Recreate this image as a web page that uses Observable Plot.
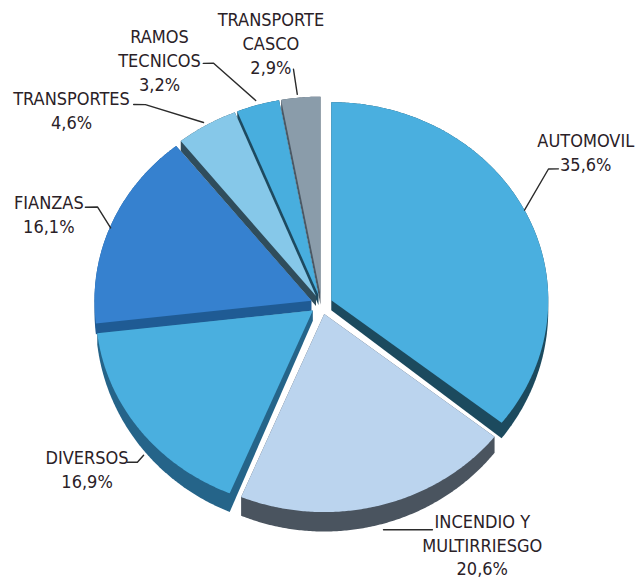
<!DOCTYPE html>
<html><head><meta charset="utf-8">
<script src="https://cdn.jsdelivr.net/npm/d3@7"></script>
<script src="https://cdn.jsdelivr.net/npm/@observablehq/plot@0.6"></script>
<style>body{margin:0;background:#fff}</style>
</head><body><div id="chart"></div>
<script>
// ---- data ----
const categories = ["AUTOMOVIL", "INCENDIO Y\nMULTIRRIESGO", "DIVERSOS", "FIANZAS", "TRANSPORTES", "RAMOS\nTECNICOS", "TRANSPORTE\nCASCO"];
const values = [35.6, 20.6, 16.9, 16.1, 4.6, 3.2, 2.9];

// ---- styles ----
const topColors  = ["#4aafdf", "#bbd4ee", "#4aafdf", "#3681cf", "#86c8e9", "#48aede", "#8a9caa"];
const sideColors = ["#1c4a5e", "#4a545f", "#256489", "#1f5b94", "#2f4d5c", "#1d4a60", "#4b5864"];

// ---- layout (polar: degrees clockwise from top, radius in pie radii) ----
const labelPos = [[57.5,1.444],[148.5,1.418],[232.6,1.36],[290.1,1.338],[310.5,1.515],[328.9,1.445],[350,1.343]];
const leaderPts = [
  [[63.0,1.05],[56.8,1.25],[57.9,1.289]],
  [[165.9,1.173],[155.8,1.247]],
  [[227.1,1.119],[226.8,1.164],[228.3,1.198]],
  [[291.7,1.046],[295.5,1.143],[294.3,1.194]],
  [[329.4,1.068],[321.2,1.295],[319.4,1.330]],
  [[343.6,1.074],[337.8,1.316],[335.9,1.334]],
  [[354.0,1.067],[353.8,1.195]]
];
const cx = 321, cy = 304, rx = 217, ry = 198, explode = 0.05;
const fontFamily = "'Liberation Sans Narrow', 'DejaVu Sans Condensed', 'Roboto Condensed', sans-serif";

const rad = Math.PI / 180;
const polar = ([a, r]) => ({u: r * Math.sin(a * rad), v: r * Math.cos(a * rad)});
const depthPx = v => 10 + 9 * Math.max(0, -v);

const arcs = d3.pie().sort(null).value(d => d)(values);
const slices = arcs.map((a, i) => {
  const mid = (a.startAngle + a.endAngle) / 2;
  const ex = explode * Math.sin(mid), ey = explode * Math.cos(mid);
  const pts = [[ex, ey]];
  const n = Math.max(4, Math.ceil((a.endAngle - a.startAngle) / (0.5 * rad)));
  for (let k = 0; k <= n; k++) {
    const t = a.startAngle + (a.endAngle - a.startAngle) * k / n;
    pts.push([ex + Math.sin(t), ey + Math.cos(t)]);
  }
  const shifted = pts.map(([u, v]) => [u, v - depthPx(v) / ry]);
  const hull = d3.polygonHull(pts.concat(shifted));
  return {i, mid, pts, hull};
});

// back-to-front
const order = slices.slice().sort((a, b) => Math.cos(b.mid) - Math.cos(a.mid));
const shapes = [];
for (const s of order) {
  s.hull.forEach(([u, v]) => shapes.push({key: "side" + s.i, u, v}));
  s.pts.forEach(([u, v]) => shapes.push({key: "top" + s.i, u, v}));
}
const colorDomain = categories.map((c, i) => "top" + i).concat(categories.map((c, i) => "side" + i));
const colorRange = topColors.concat(sideColors);

const labels = categories.map((c, i) => ({
  ...polar(labelPos[i]),
  text: c + "\n" + values[i].toFixed(1).replace(".", ",") + "%"
}));
const leaders = leaderPts.flatMap((pts, i) => pts.map(p => ({id: i, ...polar(p)})));

const chart = Plot.plot({
  width: 635,
  height: 580,
  margin: 0,
  x: {domain: [-1, 1], range: [cx - rx, cx + rx], axis: null},
  y: {domain: [-1, 1], range: [cy + ry, cy - ry], axis: null},
  color: {domain: colorDomain, range: colorRange},
  marks: [
    Plot.line(shapes, {x: "u", y: "v", z: "key", fill: "key", stroke: "none", curve: "linear-closed"}),
    Plot.line(leaders, {x: "u", y: "v", z: "id", stroke: "#2b2b2b", strokeWidth: 1.4}),
    Plot.text(labels, {x: "u", y: "v", text: "text", fontSize: 18, lineHeight: 1.33, fill: "#2a2127", fontFamily})
  ]
});
document.getElementById("chart").appendChild(chart);
</script>
</body></html>
